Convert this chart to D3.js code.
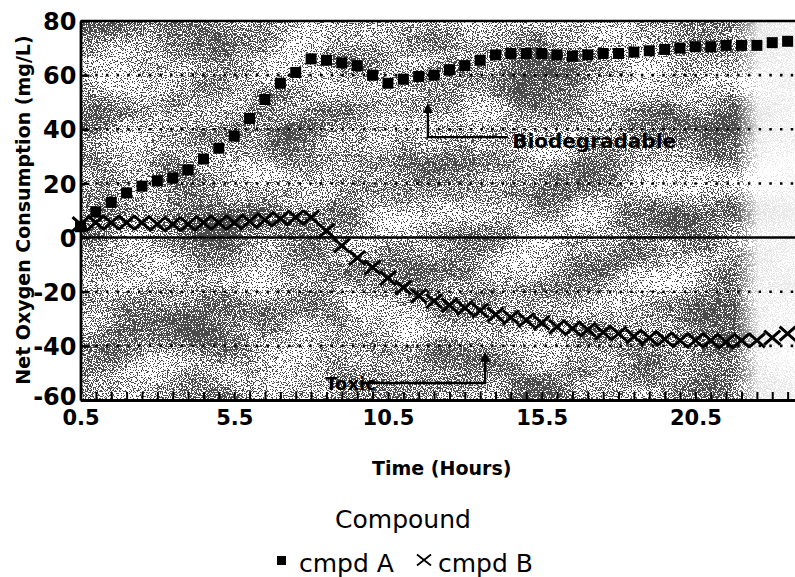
<!DOCTYPE html>
<html>
<head>
<meta charset="utf-8">
<script src="https://cdn.jsdelivr.net/npm/d3@7"></script>
<style>
  html, body { margin: 0; padding: 0; background: #fff; }
  svg { display: block; }
</style>
</head>
<body>
<svg id="chart" width="795" height="577"></svg>
<script>
// ---------------- data ----------------
const times = [0.5, 1.0, 1.5, 2.0, 2.5, 3.0, 3.5, 4.0, 4.5, 5.0, 5.5, 6.0, 6.5, 7.0, 7.5, 8.0,
  8.5, 9.0, 9.5, 10.0, 10.5, 11.0, 11.5, 12.0, 12.5, 13.0, 13.5, 14.0, 14.5, 15.0, 15.5, 16.0,
  16.5, 17.0, 17.5, 18.0, 18.5, 19.0, 19.5, 20.0, 20.5, 21.0, 21.5, 22.0, 22.5, 23.0, 23.5];

const cmpdA = [4, 9.5, 13, 16.5, 19, 21, 22, 25, 29, 33, 37.5, 44, 51, 57, 61, 66,
  65.5, 64.5, 63.5, 60, 57, 58.5, 59.5, 60, 62, 63.5, 65.5, 67.5, 68, 68, 68, 67.5,
  67, 67.5, 68, 68, 68.5, 69, 69.5, 70, 70.5, 70.5, 71, 71, 71, 72, 72.5];

const cmpdB = [5, 5.5, 5.5, 5.5, 5.5, 5, 5, 5, 5.5, 5.5, 5.5, 6, 6.5, 7, 7.5, 7.5,
  2.5, -3, -7.5, -11, -15, -18.5, -21.5, -23.5, -25, -26, -27, -28.5, -29.5, -30.5, -31.5, -33,
  -33.5, -34, -35, -35.5, -36.5, -37, -37.5, -38, -38, -38, -38.5, -38, -38, -37, -35.5];

const xTickLabels = [0.5, 5.5, 10.5, 15.5, 20.5];
const yTicks = [-60, -40, -20, 0, 20, 40, 60, 80];
const yGrid = [60, 40, 20, -20, -40];
const seriesNames = ["cmpd A", "cmpd B"];

// ---------------- layout ----------------
const svg = d3.select("#chart");
const L = 80.5, R = 795, T = 21, B = 400;
const x = d3.scaleLinear().domain([0.5, 23.74]).range([L, R]);
const y = d3.scaleLinear().domain([-60, 80]).range([B, T]);
const FONT = "'DejaVu Sans', 'Liberation Sans', Arial, sans-serif";

// ---------------- texture (scanned halftone look) ----------------
const defs = svg.append("defs");
const f = defs.append("filter").attr("id", "grain")
  .attr("x", 0).attr("y", 0).attr("width", 1).attr("height", 1)
  .attr("color-interpolation-filters", "sRGB");
f.append("feTurbulence").attr("type", "fractalNoise").attr("baseFrequency", "0.8")
  .attr("numOctaves", 2).attr("seed", 7).attr("result", "hi0");
f.append("feColorMatrix").attr("in", "hi0").attr("type", "matrix")
  .attr("values", "1 0 0 0 0  1 0 0 0 0  1 0 0 0 0  0 0 0 0 1").attr("result", "hi");
f.append("feTurbulence").attr("type", "fractalNoise").attr("baseFrequency", "0.012 0.02")
  .attr("numOctaves", 2).attr("seed", 11).attr("result", "lo0");
f.append("feColorMatrix").attr("in", "lo0").attr("type", "matrix")
  .attr("values", "1 0 0 0 0  1 0 0 0 0  1 0 0 0 0  0 0 0 0 1").attr("result", "lo");
f.append("feComposite").attr("in", "hi").attr("in2", "lo").attr("operator", "arithmetic")
  .attr("k1", 0).attr("k2", 0.85).attr("k3", 0.35).attr("k4", -0.1).attr("result", "mix");
f.append("feColorMatrix").attr("in", "mix").attr("type", "matrix")
  .attr("values", "0 0 0 0 0  0 0 0 0 0  0 0 0 0 0  -6 0 0 0 3.45").attr("result", "al");
const ct = f.append("feComponentTransfer").attr("in", "al");
ct.append("feFuncA").attr("type", "discrete").attr("tableValues", "0 1");

const fade = defs.append("linearGradient").attr("id", "fadeR")
  .attr("x1", 0).attr("x2", 1).attr("y1", 0).attr("y2", 0);
fade.append("stop").attr("offset", "0").attr("stop-color", "#fff").attr("stop-opacity", 0);
fade.append("stop").attr("offset", "0.4").attr("stop-color", "#fff").attr("stop-opacity", 0.85);
fade.append("stop").attr("offset", "1").attr("stop-color", "#fff").attr("stop-opacity", 0.9);

svg.append("rect").attr("x", L).attr("y", T).attr("width", R - L).attr("height", B - T)
  .attr("fill", "#fff");
svg.append("rect").attr("x", L).attr("y", T).attr("width", R - L).attr("height", B - T)
  .attr("fill", "#000").attr("filter", "url(#grain)").attr("opacity", 0.7);
svg.append("rect").attr("x", 735).attr("y", T).attr("width", R - 735).attr("height", B - T)
  .attr("fill", "url(#fadeR)");

// ---------------- grid ----------------
svg.append("g").selectAll("line").data(yGrid).join("line")
  .attr("x1", L + 4).attr("x2", R)
  .attr("y1", d => y(d)).attr("y2", d => y(d))
  .attr("stroke", "#000").attr("stroke-width", 2.6)
  .attr("stroke-dasharray", "2.5,8.2");

// zero line and top border
svg.append("line").attr("x1", L).attr("x2", R).attr("y1", y(0)).attr("y2", y(0))
  .attr("stroke", "#000").attr("stroke-width", 2.6);
svg.append("line").attr("x1", L).attr("x2", R).attr("y1", y(80)).attr("y2", y(80))
  .attr("stroke", "#000").attr("stroke-width", 2.6);

// ---------------- axes ----------------
const xMinor = d3.axisBottom(x).tickValues(times).tickSizeInner(-8).tickSizeOuter(0).tickFormat("");
const gxm = svg.append("g").attr("transform", `translate(0,${B})`).call(xMinor);
gxm.select(".domain").attr("stroke", "#000").attr("stroke-width", 2.8);
gxm.selectAll(".tick line").attr("stroke", "#000").attr("stroke-width", 2);

const xLab = d3.axisBottom(x).tickValues(xTickLabels).tickSize(0).tickPadding(10)
  .tickFormat(d3.format(".1f"));
const gxl = svg.append("g").attr("transform", `translate(0,${B})`).call(xLab);
gxl.select(".domain").remove();
gxl.selectAll(".tick text").attr("font-family", FONT).attr("font-weight", "bold")
  .attr("font-size", 21).attr("fill", "#000");

const yAx = d3.axisLeft(y).tickValues(yTicks).tickSizeInner(-9).tickSizeOuter(0)
  .tickFormat(d => String(d));
const gy = svg.append("g").attr("transform", `translate(${L},0)`).call(yAx);
gy.select(".domain").attr("stroke", "#000").attr("stroke-width", 2.8);
gy.selectAll(".tick line").attr("stroke", "#000").attr("stroke-width", 2.4);
gy.selectAll(".tick text").attr("font-family", FONT).attr("font-weight", "bold")
  .attr("font-size", 24).attr("fill", "#000").attr("x", -4)
  .attr("dy", d => d === -60 ? "0.2em" : "0.36em");

// ---------------- series ----------------
const gB = svg.append("g");
gB.selectAll("path").data(times).join("path")
  .attr("transform", (d, i) => `translate(${x(d)},${y(cmpdB[i])})`)
  .attr("d", "M-8,-7L8,7M-8,7L8,-7")
  .attr("stroke", "#000").attr("stroke-width", 3).attr("fill", "none");

const gA = svg.append("g");
gA.selectAll("rect").data(times).join("rect")
  .attr("x", d => x(d) - 5.5).attr("y", (d, i) => y(cmpdA[i]) - 5.5)
  .attr("width", 11).attr("height", 11).attr("fill", "#000");

// ---------------- annotations ----------------
function arrow(tx, vTip, vCorner, tEnd) {
  const g = svg.append("g");
  const xt = x(tx), yTip = y(vTip), yc = y(vCorner), xe = x(tEnd);
  g.append("path")
    .attr("d", `M${xe},${yc}L${xt},${yc}L${xt},${yTip + 8}`)
    .attr("fill", "none").attr("stroke", "#000").attr("stroke-width", 2.4);
  g.append("path")
    .attr("d", `M${xt},${yTip}L${xt - 5},${yTip + 10}L${xt + 5},${yTip + 10}Z`)
    .attr("fill", "#000");
}
// Biodegradable
arrow(11.8, 49.7, 37.1, 14.4);
svg.append("text").attr("x", x(14.54)).attr("y", y(33.1))
  .attr("font-family", FONT).attr("font-weight", "bold").attr("font-size", 20)
  .attr("fill", "#000").text("Biodegradable");
// Toxic
arrow(13.66, -42.2, -53.7, 9.6);
svg.append("text").attr("x", x(8.46)).attr("y", y(-56.3))
  .attr("font-family", FONT).attr("font-weight", "bold").attr("font-size", 18)
  .attr("fill", "#000").text("Toxic");

// ---------------- titles ----------------
svg.append("text").attr("transform", "translate(30,210) rotate(-90)")
  .attr("text-anchor", "middle").attr("font-family", FONT).attr("font-weight", "bold")
  .attr("font-size", 19).attr("fill", "#000").text("Net Oxygen Consumption (mg/L)");

svg.append("text").attr("x", (L + R) / 2 + 4).attr("y", 475).attr("text-anchor", "middle")
  .attr("font-family", FONT).attr("font-weight", "bold").attr("font-size", 19)
  .attr("fill", "#000").text("Time (Hours)");

// ---------------- legend ----------------
svg.append("text").attr("x", 403).attr("y", 528).attr("text-anchor", "middle")
  .attr("font-family", FONT).attr("font-size", 25).attr("fill", "#000").text("Compound");

const lg = svg.append("g");
lg.append("rect").attr("x", 277).attr("y", 556).attr("width", 9).attr("height", 9).attr("fill", "#000");
lg.append("text").attr("x", 299).attr("y", 572).attr("font-family", FONT).attr("font-size", 25)
  .attr("fill", "#000").text(seriesNames[0]);
lg.append("path").attr("transform", "translate(424,560)")
  .attr("d", "M-7,-5.5L7,5.5M-7,5.5L7,-5.5").attr("stroke", "#000").attr("stroke-width", 1.8)
  .attr("fill", "none");
lg.append("text").attr("x", 438).attr("y", 572).attr("font-family", FONT).attr("font-size", 25)
  .attr("fill", "#000").text(seriesNames[1]);
</script>
</body>
</html>
